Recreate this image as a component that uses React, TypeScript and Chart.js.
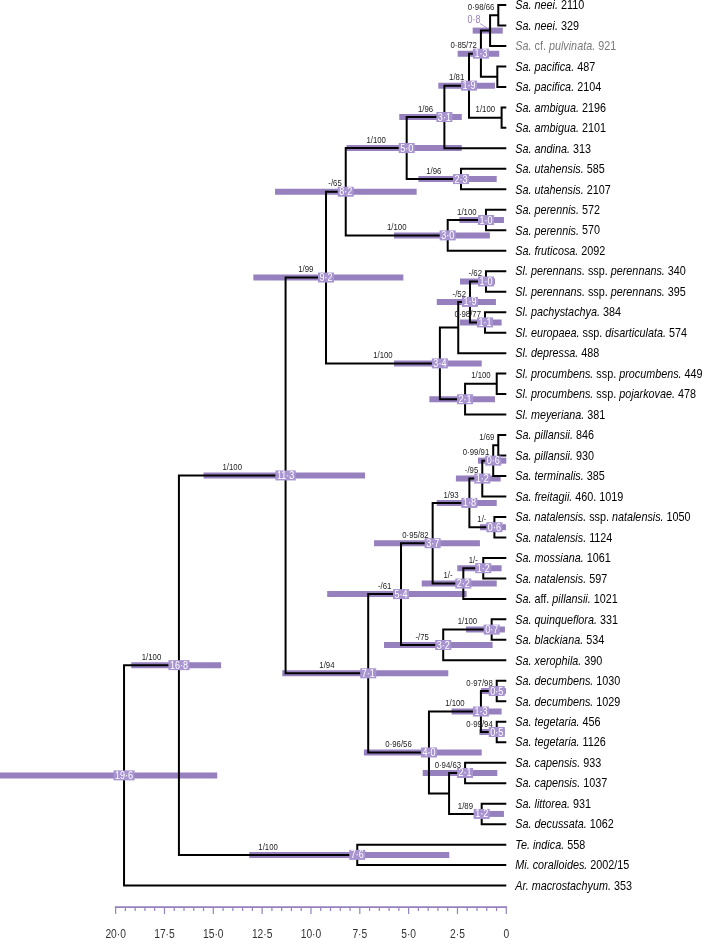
import React, { useEffect, useRef } from 'react';
import { Chart, registerables } from 'chart.js';

Chart.register(...registerables);

// ---------- DATA ----------
const leafLabels: string[] = [
  '*Sa. neei.* 2110',
  '*Sa. neei.* 329',
  '*Sa.* cf. *pulvinata.* 921',
  '*Sa. pacifica.* 487',
  '*Sa. pacifica.* 2104',
  '*Sa. ambigua.* 2196',
  '*Sa. ambigua.* 2101',
  '*Sa. andina.* 313',
  '*Sa. utahensis.* 585',
  '*Sa. utahensis.* 2107',
  '*Sa. perennis.* 572',
  '*Sa. perennis.* 570',
  '*Sa. fruticosa.* 2092',
  '*Sl. perennans.* ssp. *perennans.* 340',
  '*Sl. perennans.* ssp. *perennans.* 395',
  '*Sl. pachystachya.* 384',
  '*Sl. europaea.* ssp. *disarticulata.* 574',
  '*Sl. depressa.* 488',
  '*Sl. procumbens.* ssp. *procumbens.* 449',
  '*Sl. procumbens.* ssp. *pojarkovae.* 478',
  '*Sl. meyeriana.* 381',
  '*Sa. pillansii.* 846',
  '*Sa. pillansii.* 930',
  '*Sa. terminalis.* 385',
  '*Sa. freitagii.* 460. 1019',
  '*Sa. natalensis.* ssp. *natalensis.* 1050',
  '*Sa. natalensis.* 1124',
  '*Sa. mossiana.* 1061',
  '*Sa. natalensis.* 597',
  '*Sa.* aff. *pillansii.* 1021',
  '*Sa. quinqueflora.* 331',
  '*Sa. blackiana.* 534',
  '*Sa. xerophila.* 390',
  '*Sa. decumbens.* 1030',
  '*Sa. decumbens.* 1029',
  '*Sa. tegetaria.* 456',
  '*Sa. tegetaria.* 1126',
  '*Sa. capensis.* 933',
  '*Sa. capensis.* 1037',
  '*Sa. littorea.* 931',
  '*Sa. decussata.* 1062',
  '*Te. indica.* 558',
  '*Mi. coralloides.* 2002/15',
  '*Ar. macrostachyum.* 353',
];
const greyLeaves: number[] = [2];

// internal nodes (children: "L<i>" = leaf i, otherwise a node name)
const nodeNames: string[] = [
  'n1', 'n2', 'n3', 'n4', 'n5', 'n6', 'n7', 'n8', 'n9', 'n12', 'n11', 'n10',
  'n15', 'n16', 'n17', 'n18', 'n20', 'n21', 'n19', 'n13',
  'na', 'nb', 'nc', 'nd', 'ne', 'nf', 'ng', 'nh', 'ni', 'nj', 'nk',
  'nn', 'no', 'nl', 'np', 'nq', 'nm', 'n40', 'n71', 'n22', 'n76', 'n23', 'root',
];
const nodeChildren: string[][] = [
  ['L0', 'L1'], ['n1', 'L2'], ['L3', 'L4'], ['n2', 'n3'], ['L5', 'L6'], ['n4', 'n5'],
  ['n6', 'L7'], ['L8', 'L9'], ['n7', 'n8'], ['L10', 'L11'], ['n12', 'L12'], ['n9', 'n11'],
  ['L13', 'L14'], ['L15', 'L16'], ['n15', 'n16'], ['n17', 'L17'], ['L18', 'L19'], ['n20', 'L20'],
  ['n18', 'n21'], ['n10', 'n19'],
  ['L21', 'L22'], ['na', 'L23'], ['nb', 'L24'], ['L25', 'L26'], ['nc', 'nd'], ['L27', 'L28'],
  ['nf', 'L29'], ['ne', 'ng'], ['L30', 'L31'], ['ni', 'L32'], ['nh', 'nj'],
  ['L33', 'L34'], ['L35', 'L36'], ['nn', 'no'], ['L37', 'L38'], ['L39', 'L40'], ['np', 'nq'],
  ['nl', 'nm'], ['nk', 'n40'], ['n13', 'n71'], ['L41', 'L42'], ['n22', 'n76'], ['n23', 'L43'],
];
const nodeAges: number[] = [
  0.41, 0.83, 0.46, 1.3, 0.24, 1.91, 3.17, 2.32, 5.1, 1.04, 3.0, 8.22,
  1.04, 1.09, 1.86, 2.46, 0.49, 2.11, 3.4, 9.23,
  0.41, 0.67, 1.23, 0.61, 1.89, 1.18, 2.2, 3.77, 0.75, 3.23, 5.39,
  0.49, 0.49, 1.3, 2.11, 1.26, 2.93, 3.96, 7.07, 11.3, 7.63, 16.76, 19.57,
];
const hpdOlder: (number | null)[] = [
  null, 1.72, null, 2.49, null, 3.48, 5.48, 4.5, 8.18, 2.4, 5.75, 11.84,
  2.37, 2.37, 3.56, null, null, 3.94, 5.75, 12.95,
  null, 1.45, 2.58, 1.35, 3.56, 2.51, 4.33, 6.77, 2.06, 6.26, 9.17,
  1.3, 1.38, 2.8, 4.28, 1.52, null, 7.29, 11.47, 15.5, 13.16, 19.2, 26.5,
];
const hpdYounger: (number | null)[] = [
  null, 0.18, null, 0.36, null, 0.58, 2.28, 0.49, 2.28, 0.12, 0.84, 4.59,
  0.58, 0.24, 0.53, null, null, 0.58, 1.26, 5.27,
  null, 0.0, 0.29, 0.02, 0.49, 0.24, 0.49, 1.35, 0.07, 0.7, 2.03,
  0.02, 0.07, 0.24, 0.46, 0.12, null, 1.26, 2.97, 7.23, 2.92, 14.6, 14.8,
];
const ageLabels: string[] = [
  '', '0·8', '', '1·3', '', '1·9', '3·1', '2·3', '5·0', '1·0', '3·0', '8·2',
  '1·0', '1·1', '1·9', '', '', '2·1', '3·4', '9·2',
  '', '0·6', '1·2', '0·6', '1·8', '1·2', '2·2', '3·7', '0·7', '3·2', '5·4',
  '0·5', '0·5', '1·3', '2·1', '1·2', '', '4·0', '7·1', '11·3', '7·6', '16·8', '19·6',
];
const calloutLabels: string[] = ['n2'];
const supportLabels: string[] = [
  '0·98/66', '', '', '0·85/72', '1/100', '1/81', '1/96', '1/96', '1/100', '1/100', '1/100', '-/65',
  '-/62', '0·98/77', '-/52', '', '1/100', '', '1/100', '1/99',
  '1/69', '0·99/91', '-/95', '1/-', '1/93', '1/-', '1/-', '0·95/82', '1/100', '-/75', '-/61',
  '0·97/98', '0·99/94', '1/100', '0·94/63', '1/89', '', '0·96/56', '1/94', '1/100', '1/100', '1/100', '',
];

const axisMajorValues: number[] = [20, 17.5, 15, 12.5, 10, 7.5, 5, 2.5, 0];
const axisTickLabels: string[] = ['20·0', '17·5', '15·0', '12·5', '10·0', '7·5', '5·0', '2·5', '0'];
const axisMinorStep = 0.5;

// ---------- STYLE ----------
const BAR_COLOR = 'rgb(150,128,190)';
const BOX_COLOR = 'rgb(168,148,208)';
const AXIS_COLOR = 'rgb(150,128,190)';
const SANS = "'Liberation Sans', Arial, sans-serif";
const NARROW_SCALE = 0.82;
const LEAF_SCALE = 0.8;

// ---------- TREE GEOMETRY (in data units) ----------
const nodeIndex: Record<string, number> = {};
nodeNames.forEach((n, i) => (nodeIndex[n] = i));
const parentOf: Record<string, number> = {};
nodeChildren.forEach((kids, i) => kids.forEach((k) => (parentOf[k] = i)));
const yCache: Record<number, number> = {};
function nodeY(i: number): number {
  if (yCache[i] !== undefined) return yCache[i];
  const ys = nodeChildren[i].map((c) => childPos(c).y);
  yCache[i] = (ys[0] + ys[ys.length - 1]) / 2;
  return yCache[i];
}
function childPos(c: string): { age: number; y: number } {
  if (c.startsWith('L')) return { age: 0, y: Number(c.slice(1)) };
  const i = nodeIndex[c];
  return { age: nodeAges[i], y: nodeY(i) };
}

// narrow text: draws real text, horizontally condensed
function narrowText(
  ctx: CanvasRenderingContext2D, s: string, x: number, y: number,
  align: 'left' | 'center', scale: number = NARROW_SCALE,
) {
  const w = ctx.measureText(s).width * scale;
  const left = align === 'center' ? x - w / 2 : x;
  ctx.save();
  ctx.translate(left, y);
  ctx.scale(scale, 1);
  ctx.textAlign = 'left';
  ctx.fillText(s, 0, 0);
  ctx.restore();
  return w;
}

function drawRich(ctx: CanvasRenderingContext2D, text: string, x: number, y: number, size: number) {
  const parts = text.split('*');
  let cx = x;
  parts.forEach((p, k) => {
    if (!p) return;
    ctx.font = `${k % 2 === 1 ? 'italic ' : ''}${size}px ${SANS}`;
    cx += narrowText(ctx, p, cx, y, 'left', LEAF_SCALE);
  });
}

const treePlugin = {
  id: 'treeDecor',
  afterDatasetsDraw(chart: any) {
    const ctx: CanvasRenderingContext2D = chart.ctx;
    const xs = chart.scales.x;
    const ys = chart.scales.y;
    const area = chart.chartArea;
    ctx.save();

    // support labels
    ctx.textBaseline = 'middle';
    ctx.fillStyle = '#222';
    ctx.font = `9.5px ${SANS}`;
    nodeNames.forEach((n, i) => {
      const s = supportLabels[i];
      if (!s) return;
      const p = parentOf[n];
      const px = xs.getPixelForValue(nodeAges[i]);
      const ppx = xs.getPixelForValue(nodeAges[p]);
      const py = ys.getPixelForValue(nodeY(i));
      const w = ctx.measureText(s).width * NARROW_SCALE;
      let right = (px + ppx) / 2 + w / 2;
      right = Math.min(right, px - 4);
      narrowText(ctx, s, right - w, py - 8, 'left');
    });

    // age labels
    nodeNames.forEach((n, i) => {
      const s = ageLabels[i];
      if (!s) return;
      const px = xs.getPixelForValue(nodeAges[i]);
      const py = ys.getPixelForValue(nodeY(i));
      ctx.font = `11px ${SANS}`;
      ctx.textBaseline = 'middle';
      if (calloutLabels.includes(n)) {
        ctx.fillStyle = BAR_COLOR;
        narrowText(ctx, s, px - 16, py - 10.5, 'center');
        ctx.strokeStyle = BAR_COLOR;
        ctx.lineWidth = 0.8;
        ctx.beginPath();
        ctx.moveTo(px - 10, py - 7);
        ctx.lineTo(px - 3, py - 2.5);
        ctx.stroke();
        return;
      }
      const w = ctx.measureText(s).width * NARROW_SCALE + 3;
      const h = 10;
      ctx.fillStyle = BOX_COLOR;
      ctx.fillRect(px - w / 2, py - h / 2, w, h);
      ctx.fillStyle = '#fff';
      narrowText(ctx, s, px, py + 0.5, 'center');
    });

    // leaf labels
    ctx.textBaseline = 'middle';
    leafLabels.forEach((t, i) => {
      ctx.fillStyle = greyLeaves.includes(i) ? '#7a7a7a' : '#000';
      drawRich(ctx, t, area.right + 9, ys.getPixelForValue(i) + 0.5, 13.5);
    });

    // time axis
    const axisY = area.bottom + 21.5;
    const x20 = xs.getPixelForValue(axisMajorValues[0]);
    const x0 = xs.getPixelForValue(axisMajorValues[axisMajorValues.length - 1]);
    ctx.strokeStyle = AXIS_COLOR;
    ctx.lineWidth = 1.6;
    ctx.beginPath();
    ctx.moveTo(x20 - 0.8, axisY);
    ctx.lineTo(x0 + 0.8, axisY);
    ctx.stroke();
    const nMinor = Math.round(axisMajorValues[0] / axisMinorStep);
    ctx.lineWidth = 1.2;
    for (let k = 0; k <= nMinor; k++) {
      const v = k * axisMinorStep;
      const major = axisMajorValues.some((m) => Math.abs(m - v) < 1e-6);
      const px = xs.getPixelForValue(v);
      ctx.beginPath();
      ctx.moveTo(px, axisY);
      ctx.lineTo(px, axisY + (major ? 7 : 4));
      ctx.stroke();
    }
    ctx.fillStyle = '#333';
    ctx.font = `12.5px ${SANS}`;
    ctx.textBaseline = 'middle';
    axisMajorValues.forEach((v, k) => {
      narrowText(ctx, axisTickLabels[k], xs.getPixelForValue(v), axisY + 27, 'center');
    });

    ctx.restore();
  },
};

export default function App() {
  const ref = useRef<HTMLCanvasElement | null>(null);
  useEffect(() => {
    if (!ref.current) return;
    const branchSets = nodeNames.map((n, i) => {
      const a = childPos(nodeChildren[i][0]);
      const b = childPos(nodeChildren[i][1]);
      return {
        type: 'scatter' as const,
        data: [
          { x: a.age, y: a.y },
          { x: nodeAges[i], y: a.y },
          { x: nodeAges[i], y: b.y },
          { x: b.age, y: b.y },
        ],
        showLine: true,
        borderColor: '#000',
        borderWidth: 2,
        borderJoinStyle: 'miter' as const,
        borderCapStyle: 'butt' as const,
        pointRadius: 0,
        tension: 0,
        clip: false as any,
        order: 0,
      };
    });
    const barSets: any[] = [];
    nodeNames.forEach((n, i) => {
      if (hpdOlder[i] === null || hpdYounger[i] === null) return;
      const y = nodeY(i);
      barSets.push({
        type: 'scatter',
        data: [
          { x: hpdOlder[i], y },
          { x: hpdYounger[i], y },
        ],
        showLine: true,
        borderColor: BAR_COLOR,
        borderWidth: 6,
        borderCapStyle: 'butt',
        pointRadius: 0,
        clip: false,
        order: 1,
      });
    });
    const chart = new Chart(ref.current, {
      type: 'scatter',
      data: { datasets: [...branchSets, ...barSets] as any },
      options: {
        responsive: false,
        animation: false,
        events: [],
        layout: { padding: { left: 0, right: 196.7, top: 5, bottom: 53.4 } },
        plugins: { legend: { display: false }, tooltip: { enabled: false } },
        scales: {
          x: { type: 'linear', reverse: true, min: 0, max: 25.92, display: false },
          y: { type: 'linear', reverse: true, min: 0, max: 43, display: false },
        },
      },
      plugins: [treePlugin],
    });
    return () => chart.destroy();
  }, []);
  return (
    <div style={{ position: 'fixed', left: 0, top: 0, width: 703, height: 939, background: '#fff' }}>
      <canvas ref={ref} width={703} height={939} />
    </div>
  );
}
